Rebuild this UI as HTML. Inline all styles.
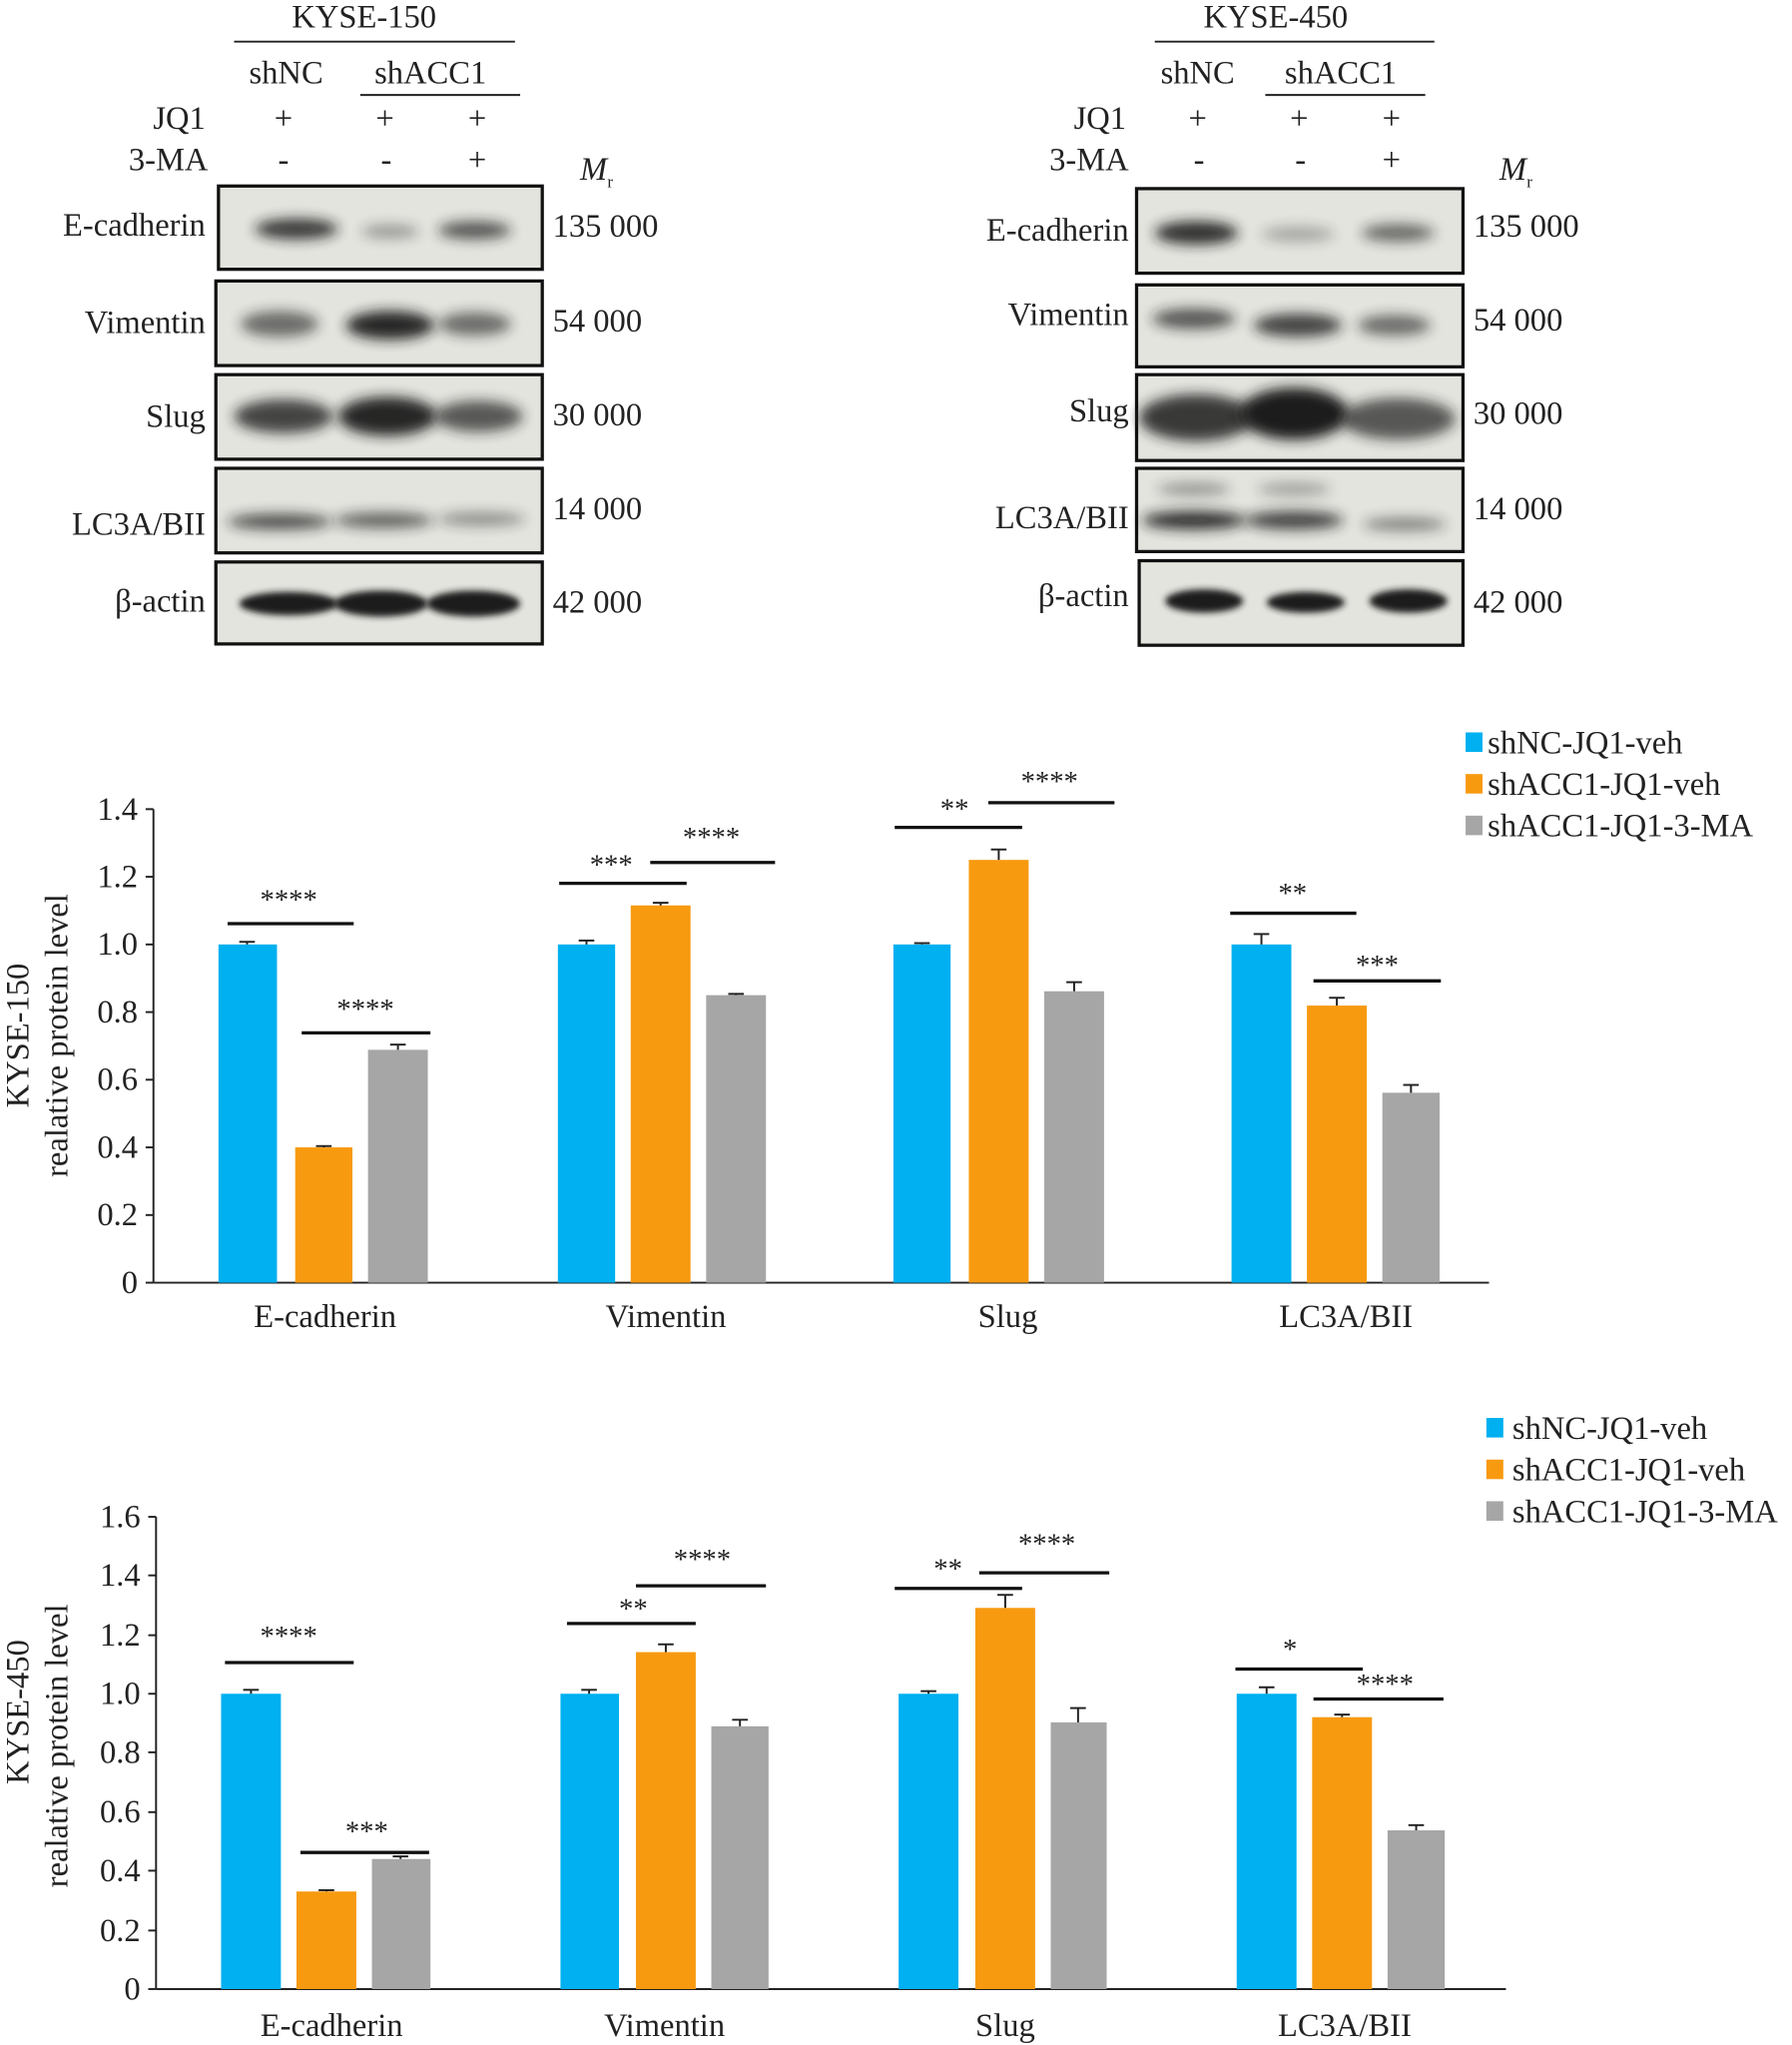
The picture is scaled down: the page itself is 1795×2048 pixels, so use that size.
<!DOCTYPE html>
<html><head><meta charset="utf-8"><style>
html,body{margin:0;padding:0;background:#fff;}
svg{display:block;}
text{font-family:"Liberation Serif",serif;fill:#222;}
</style></head><body>
<svg width="1795" height="2048" viewBox="0 0 1378 1572" preserveAspectRatio="none" xmlns="http://www.w3.org/2000/svg">
<defs>
<filter id="b" x="-50%" y="-100%" width="200%" height="300%"><feGaussianBlur stdDeviation="5"/></filter>
<filter id="b2" x="-50%" y="-100%" width="200%" height="300%"><feGaussianBlur stdDeviation="2.5"/></filter>
</defs>
<rect width="1378" height="1572" fill="#fff"/>
<g font-size="25">
<!-- LEFT BLOT -->
<text x="280" y="21" text-anchor="middle">KYSE-150</text>
<line x1="180" y1="32" x2="396" y2="32" stroke="#222" stroke-width="1.5"/>
<text x="220" y="64" text-anchor="middle">shNC</text>
<text x="331" y="64" text-anchor="middle">shACC1</text>
<line x1="277" y1="73" x2="400" y2="73" stroke="#222" stroke-width="1.5"/>
<text x="158" y="99" text-anchor="end">JQ1</text>
<text x="218" y="99" text-anchor="middle">+</text><text x="296" y="99" text-anchor="middle">+</text><text x="367" y="99" text-anchor="middle">+</text>
<text x="160" y="131" text-anchor="end">3-MA</text>
<text x="218" y="131" text-anchor="middle">-</text><text x="297" y="131" text-anchor="middle">-</text><text x="367" y="131" text-anchor="middle">+</text>
<text x="446" y="138" font-style="italic">M</text><text x="467" y="144" font-size="13">r</text>
<text x="158" y="181" text-anchor="end">E-cadherin</text>
<text x="158" y="256" text-anchor="end">Vimentin</text>
<text x="158" y="328" text-anchor="end">Slug</text>
<text x="158" y="411" text-anchor="end">LC3A/BII</text>
<text x="158" y="470" text-anchor="end">β-actin</text>
<text x="425" y="182">135 000</text><text x="425" y="255">54 000</text><text x="425" y="327">30 000</text><text x="425" y="399">14 000</text><text x="425" y="471">42 000</text>
<g stroke="#111" stroke-width="2.5" fill="#e4e4df">
<rect x="168" y="143" width="249" height="64"/><rect x="166" y="216" width="251" height="65"/><rect x="166" y="288" width="251" height="65"/><rect x="166" y="360" width="251" height="65"/><rect x="166" y="432" width="251" height="63"/>
</g>
<g fill="#1a1a1a">
<ellipse cx="228" cy="176" rx="32" ry="8" filter="url(#b)" opacity="0.85"/><ellipse cx="300" cy="178" rx="22" ry="5" filter="url(#b)" opacity="0.4"/><ellipse cx="365" cy="177" rx="28" ry="7" filter="url(#b)" opacity="0.7"/>
<ellipse cx="215" cy="249" rx="30" ry="10" filter="url(#b)" opacity="0.6"/><ellipse cx="300" cy="250" rx="34" ry="11" filter="url(#b)" opacity="0.95"/><ellipse cx="365" cy="249" rx="28" ry="9" filter="url(#b)" opacity="0.6"/>
<ellipse cx="218" cy="320" rx="38" ry="13" filter="url(#b)" opacity="0.8"/><ellipse cx="298" cy="320" rx="38" ry="15" filter="url(#b)" opacity="0.95"/><ellipse cx="368" cy="320" rx="34" ry="12" filter="url(#b)" opacity="0.7"/>
<ellipse cx="215" cy="401" rx="40" ry="6" filter="url(#b)" opacity="0.75"/><ellipse cx="295" cy="400" rx="38" ry="6" filter="url(#b)" opacity="0.65"/><ellipse cx="370" cy="399" rx="34" ry="5" filter="url(#b)" opacity="0.45"/>
<ellipse cx="222" cy="464" rx="38" ry="9" filter="url(#b2)"/><ellipse cx="293" cy="464" rx="36" ry="10" filter="url(#b2)"/><ellipse cx="364" cy="464" rx="36" ry="10" filter="url(#b2)"/>
</g>
<!-- RIGHT BLOT -->
<text x="981" y="21" text-anchor="middle">KYSE-450</text>
<line x1="888" y1="32" x2="1103" y2="32" stroke="#222" stroke-width="1.5"/>
<text x="921" y="64" text-anchor="middle">shNC</text>
<text x="1031" y="64" text-anchor="middle">shACC1</text>
<line x1="973" y1="73" x2="1096" y2="73" stroke="#222" stroke-width="1.5"/>
<text x="866" y="99" text-anchor="end">JQ1</text>
<text x="921" y="99" text-anchor="middle">+</text><text x="999" y="99" text-anchor="middle">+</text><text x="1070" y="99" text-anchor="middle">+</text>
<text x="868" y="131" text-anchor="end">3-MA</text>
<text x="922" y="131" text-anchor="middle">-</text><text x="1000" y="131" text-anchor="middle">-</text><text x="1070" y="131" text-anchor="middle">+</text>
<text x="1153" y="138" font-style="italic">M</text><text x="1174" y="144" font-size="13">r</text>
<text x="868" y="185" text-anchor="end">E-cadherin</text>
<text x="868" y="250" text-anchor="end">Vimentin</text>
<text x="868" y="324" text-anchor="end">Slug</text>
<text x="868" y="406" text-anchor="end">LC3A/BII</text>
<text x="868" y="466" text-anchor="end">β-actin</text>
<text x="1133" y="182">135 000</text><text x="1133" y="254">54 000</text><text x="1133" y="326">30 000</text><text x="1133" y="399">14 000</text><text x="1133" y="471">42 000</text>
<g stroke="#111" stroke-width="2.5" fill="#e4e4df">
<rect x="874" y="145" width="251" height="65"/><rect x="874" y="219" width="251" height="63"/><rect x="874" y="288" width="251" height="66"/><rect x="874" y="360" width="251" height="64"/><rect x="876" y="431" width="249" height="65"/>
</g>
<g fill="#1a1a1a">
<ellipse cx="920" cy="179" rx="32" ry="9" filter="url(#b)" opacity="0.9"/><ellipse cx="998" cy="180" rx="28" ry="6" filter="url(#b)" opacity="0.3"/><ellipse cx="1075" cy="179" rx="28" ry="7" filter="url(#b)" opacity="0.6"/>
<ellipse cx="918" cy="245" rx="32" ry="8" filter="url(#b)" opacity="0.7"/><ellipse cx="998" cy="250" rx="34" ry="9" filter="url(#b)" opacity="0.8"/><ellipse cx="1072" cy="250" rx="28" ry="8" filter="url(#b)" opacity="0.6"/>
<ellipse cx="920" cy="321" rx="44" ry="18" filter="url(#b)" opacity="0.85"/><ellipse cx="995" cy="318" rx="42" ry="20" filter="url(#b)" opacity="1"/><ellipse cx="1075" cy="322" rx="44" ry="16" filter="url(#b)" opacity="0.7"/>
<ellipse cx="918" cy="400" rx="40" ry="7" filter="url(#b)" opacity="0.9"/><ellipse cx="995" cy="400" rx="38" ry="7" filter="url(#b)" opacity="0.8"/><ellipse cx="1080" cy="403" rx="32" ry="5" filter="url(#b)" opacity="0.5"/>
<ellipse cx="918" cy="376" rx="28" ry="5" filter="url(#b)" opacity="0.4"/><ellipse cx="995" cy="376" rx="28" ry="5" filter="url(#b)" opacity="0.35"/>
<ellipse cx="926" cy="462" rx="30" ry="9" filter="url(#b2)"/><ellipse cx="1004" cy="463" rx="30" ry="8" filter="url(#b2)"/><ellipse cx="1083" cy="462" rx="30" ry="9" filter="url(#b2)"/>
</g>
</g>

<!-- CHART 1 -->
<g font-size="25">
<rect x="1127" y="563" width="13" height="15" fill="#00b0f0"/><text x="1144" y="579">shNC-JQ1-veh</text>
<rect x="1127" y="595" width="13" height="15" fill="#f79a10"/><text x="1144" y="611">shACC1-JQ1-veh</text>
<rect x="1127" y="627" width="13" height="15" fill="#a6a6a6"/><text x="1144" y="643">shACC1-JQ1-3-MA</text>
<g text-anchor="end">
<text x="106" y="994">0</text><text x="106" y="942">0.2</text><text x="106" y="890">0.4</text><text x="106" y="838">0.6</text><text x="106" y="786">0.8</text><text x="106" y="734">1.0</text><text x="106" y="682">1.2</text><text x="106" y="630">1.4</text>
</g>
<g stroke="#222" stroke-width="1.5">
<line x1="118" y1="622" x2="118" y2="986"/><line x1="118" y1="986" x2="1145" y2="986"/>
<line x1="112" y1="986" x2="118" y2="986"/><line x1="112" y1="934" x2="118" y2="934"/><line x1="112" y1="882" x2="118" y2="882"/><line x1="112" y1="830" x2="118" y2="830"/><line x1="112" y1="778" x2="118" y2="778"/><line x1="112" y1="726" x2="118" y2="726"/><line x1="112" y1="674" x2="118" y2="674"/><line x1="112" y1="622" x2="118" y2="622"/>
</g>
<text transform="translate(22,796) rotate(-90)" text-anchor="middle">KYSE-150</text>
<text transform="translate(52,796) rotate(-90)" text-anchor="middle">realative protein level</text>
<g text-anchor="middle"><text x="250" y="1020">E-cadherin</text><text x="512" y="1020">Vimentin</text><text x="775" y="1020">Slug</text><text x="1035" y="1020">LC3A/BII</text></g>
<g>
<rect x="168" y="726" width="45" height="260" fill="#00b0f0"/><rect x="227" y="882" width="44" height="104" fill="#f79a10"/><rect x="283" y="807" width="46" height="179" fill="#a6a6a6"/>
<rect x="429" y="726" width="44" height="260" fill="#00b0f0"/><rect x="485" y="696" width="46" height="290" fill="#f79a10"/><rect x="543" y="765" width="46" height="221" fill="#a6a6a6"/>
<rect x="687" y="726" width="44" height="260" fill="#00b0f0"/><rect x="745" y="661" width="46" height="325" fill="#f79a10"/><rect x="803" y="762" width="46" height="224" fill="#a6a6a6"/>
<rect x="947" y="726" width="46" height="260" fill="#00b0f0"/><rect x="1005" y="773" width="46" height="213" fill="#f79a10"/><rect x="1063" y="840" width="44" height="146" fill="#a6a6a6"/>
</g>
<g stroke="#222" stroke-width="1.5">
<line x1="190" y1="726" x2="190" y2="724"/><line x1="184" y1="724" x2="196" y2="724"/>
<line x1="249" y1="882" x2="249" y2="881"/><line x1="243" y1="881" x2="255" y2="881"/>
<line x1="306" y1="807" x2="306" y2="803"/><line x1="300" y1="803" x2="312" y2="803"/>
<line x1="451" y1="726" x2="451" y2="723"/><line x1="445" y1="723" x2="457" y2="723"/>
<line x1="508" y1="696" x2="508" y2="694"/><line x1="502" y1="694" x2="514" y2="694"/>
<line x1="566" y1="765" x2="566" y2="764"/><line x1="560" y1="764" x2="572" y2="764"/>
<line x1="709" y1="726" x2="709" y2="725"/><line x1="703" y1="725" x2="715" y2="725"/>
<line x1="768" y1="661" x2="768" y2="653"/><line x1="762" y1="653" x2="774" y2="653"/>
<line x1="826" y1="762" x2="826" y2="755"/><line x1="820" y1="755" x2="832" y2="755"/>
<line x1="970" y1="726" x2="970" y2="718"/><line x1="964" y1="718" x2="976" y2="718"/>
<line x1="1028" y1="773" x2="1028" y2="767"/><line x1="1022" y1="767" x2="1034" y2="767"/>
<line x1="1085" y1="840" x2="1085" y2="834"/><line x1="1079" y1="834" x2="1091" y2="834"/>
</g>
<g stroke="#111" stroke-width="2.5">
<line x1="175" y1="710" x2="272" y2="710"/><line x1="232" y1="794" x2="331" y2="794"/>
<line x1="430" y1="679" x2="528" y2="679"/><line x1="500" y1="663" x2="596" y2="663"/>
<line x1="688" y1="636" x2="786" y2="636"/><line x1="760" y1="617" x2="857" y2="617"/>
<line x1="946" y1="702" x2="1043" y2="702"/><line x1="1010" y1="754" x2="1108" y2="754"/>
</g>
<g text-anchor="middle" font-size="22">
<text x="222" y="699">****</text><text x="281" y="783">****</text><text x="470" y="672">***</text><text x="547" y="651">****</text>
<text x="734" y="629">**</text><text x="807" y="608">****</text><text x="994" y="694">**</text><text x="1059" y="749">***</text>
</g>
</g>

<!-- CHART 2 -->
<g font-size="25">
<rect x="1143" y="1090" width="13" height="15" fill="#00b0f0"/><text x="1163" y="1106">shNC-JQ1-veh</text>
<rect x="1143" y="1122" width="13" height="15" fill="#f79a10"/><text x="1163" y="1138">shACC1-JQ1-veh</text>
<rect x="1143" y="1154" width="13" height="15" fill="#a6a6a6"/><text x="1163" y="1170">shACC1-JQ1-3-MA</text>
<g text-anchor="end">
<text x="108" y="1537">0</text><text x="108" y="1492">0.2</text><text x="108" y="1446">0.4</text><text x="108" y="1401">0.6</text><text x="108" y="1355">0.8</text><text x="108" y="1310">1.0</text><text x="108" y="1265">1.2</text><text x="108" y="1219">1.4</text><text x="108" y="1174">1.6</text>
</g>
<g stroke="#222" stroke-width="1.5">
<line x1="120" y1="1166" x2="120" y2="1529"/><line x1="120" y1="1529" x2="1158" y2="1529"/>
<line x1="114" y1="1529" x2="120" y2="1529"/><line x1="114" y1="1484" x2="120" y2="1484"/><line x1="114" y1="1438" x2="120" y2="1438"/><line x1="114" y1="1393" x2="120" y2="1393"/><line x1="114" y1="1347" x2="120" y2="1347"/><line x1="114" y1="1302" x2="120" y2="1302"/><line x1="114" y1="1257" x2="120" y2="1257"/><line x1="114" y1="1211" x2="120" y2="1211"/><line x1="114" y1="1166" x2="120" y2="1166"/>
</g>
<text transform="translate(22,1316) rotate(-90)" text-anchor="middle">KYSE-450</text>
<text transform="translate(52,1342) rotate(-90)" text-anchor="middle">realative protein level</text>
<g text-anchor="middle"><text x="255" y="1565">E-cadherin</text><text x="511" y="1565">Vimentin</text><text x="773" y="1565">Slug</text><text x="1034" y="1565">LC3A/BII</text></g>
<g>
<rect x="170" y="1302" width="46" height="227" fill="#00b0f0"/><rect x="228" y="1454" width="46" height="75" fill="#f79a10"/><rect x="286" y="1429" width="45" height="100" fill="#a6a6a6"/>
<rect x="431" y="1302" width="45" height="227" fill="#00b0f0"/><rect x="489" y="1270" width="46" height="259" fill="#f79a10"/><rect x="547" y="1327" width="44" height="202" fill="#a6a6a6"/>
<rect x="691" y="1302" width="46" height="227" fill="#00b0f0"/><rect x="750" y="1236" width="46" height="293" fill="#f79a10"/><rect x="808" y="1324" width="43" height="205" fill="#a6a6a6"/>
<rect x="951" y="1302" width="46" height="227" fill="#00b0f0"/><rect x="1009" y="1320" width="46" height="209" fill="#f79a10"/><rect x="1067" y="1407" width="44" height="122" fill="#a6a6a6"/>
</g>
<g stroke="#222" stroke-width="1.5">
<line x1="193" y1="1302" x2="193" y2="1299"/><line x1="187" y1="1299" x2="199" y2="1299"/>
<line x1="251" y1="1454" x2="251" y2="1453"/><line x1="245" y1="1453" x2="257" y2="1453"/>
<line x1="308" y1="1429" x2="308" y2="1427"/><line x1="302" y1="1427" x2="314" y2="1427"/>
<line x1="453" y1="1302" x2="453" y2="1299"/><line x1="447" y1="1299" x2="459" y2="1299"/>
<line x1="512" y1="1270" x2="512" y2="1264"/><line x1="506" y1="1264" x2="518" y2="1264"/>
<line x1="569" y1="1327" x2="569" y2="1322"/><line x1="563" y1="1322" x2="575" y2="1322"/>
<line x1="714" y1="1302" x2="714" y2="1300"/><line x1="708" y1="1300" x2="720" y2="1300"/>
<line x1="773" y1="1236" x2="773" y2="1226"/><line x1="767" y1="1226" x2="779" y2="1226"/>
<line x1="829" y1="1324" x2="829" y2="1313"/><line x1="823" y1="1313" x2="835" y2="1313"/>
<line x1="974" y1="1302" x2="974" y2="1297"/><line x1="968" y1="1297" x2="980" y2="1297"/>
<line x1="1032" y1="1320" x2="1032" y2="1318"/><line x1="1026" y1="1318" x2="1038" y2="1318"/>
<line x1="1089" y1="1407" x2="1089" y2="1403"/><line x1="1083" y1="1403" x2="1095" y2="1403"/>
</g>
<g stroke="#111" stroke-width="2.5">
<line x1="173" y1="1278" x2="272" y2="1278"/><line x1="231" y1="1424" x2="330" y2="1424"/>
<line x1="436" y1="1248" x2="535" y2="1248"/><line x1="489" y1="1219" x2="589" y2="1219"/>
<line x1="688" y1="1221" x2="786" y2="1221"/><line x1="753" y1="1209" x2="853" y2="1209"/>
<line x1="950" y1="1283" x2="1048" y2="1283"/><line x1="1010" y1="1306" x2="1110" y2="1306"/>
</g>
<g text-anchor="middle" font-size="22">
<text x="222" y="1265">****</text><text x="282" y="1415">***</text><text x="487" y="1244">**</text><text x="540" y="1206">****</text>
<text x="729" y="1213">**</text><text x="805" y="1194">****</text><text x="992" y="1275">*</text><text x="1065" y="1302">****</text>
</g>
</g>
</svg>
</body></html>
